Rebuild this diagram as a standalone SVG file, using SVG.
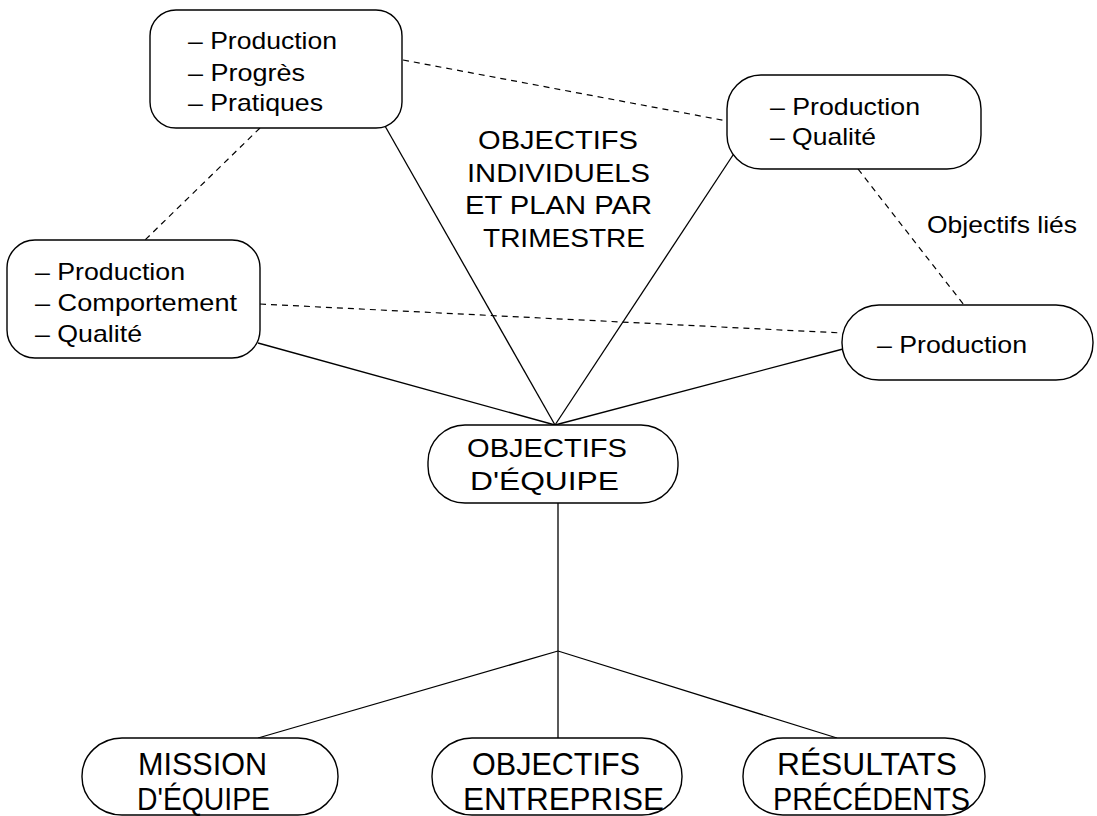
<svg xmlns="http://www.w3.org/2000/svg" width="1097" height="816" viewBox="0 0 1097 816">
<style>
.box{fill:#fff;stroke:#000;stroke-width:1.4}
.ln{stroke:#000;stroke-width:1.3;fill:none}
.dash{stroke:#000;stroke-width:1.2;fill:none;stroke-dasharray:6 5}
text{font-family:"Liberation Sans",Arial,sans-serif;fill:#000}
.s{font-size:24px}
.m{font-size:25px}
.b{font-size:32px}
</style>
<rect width="1097" height="816" fill="#fff"/>
<g id="connectors">
<line class="dash" x1="403" y1="60" x2="727" y2="121"/>
<line class="dash" x1="260" y1="128" x2="145" y2="240"/>
<line class="dash" x1="858" y1="169" x2="964" y2="305"/>
<line class="dash" x1="260" y1="304" x2="842" y2="333"/>
<line class="ln" x1="385" y1="126" x2="555" y2="425"/>
<line class="ln" x1="735" y1="152" x2="555" y2="425"/>
<line class="ln" x1="258" y1="343" x2="555" y2="425"/>
<line class="ln" x1="843" y1="349" x2="555" y2="425"/>
<line class="ln" x1="558" y1="503" x2="558" y2="651"/>
<line class="ln" x1="558" y1="651" x2="258" y2="738"/>
<line class="ln" x1="558" y1="651" x2="558" y2="738"/>
<line class="ln" x1="558" y1="651" x2="837" y2="738"/>
</g>
<g id="n-topleft">
<rect class="box" x="150" y="10" width="252" height="118" rx="26"/>
<text class="s" x="188" y="49" textLength="149" lengthAdjust="spacingAndGlyphs">– Production</text>
<text class="s" x="188" y="80.5" textLength="117" lengthAdjust="spacingAndGlyphs">– Progrès</text>
<text class="s" x="188" y="111" textLength="135" lengthAdjust="spacingAndGlyphs">– Pratiques</text>
</g>
<g id="n-topright">
<rect class="box" x="727" y="75" width="254" height="94" rx="34"/>
<text class="s" x="770" y="115" textLength="150" lengthAdjust="spacingAndGlyphs">– Production</text>
<text class="s" x="770" y="145" textLength="106" lengthAdjust="spacingAndGlyphs">– Qualité</text>
</g>
<g id="n-left">
<rect class="box" x="7" y="240" width="253" height="118" rx="28"/>
<text class="s" x="35" y="280" textLength="150" lengthAdjust="spacingAndGlyphs">– Production</text>
<text class="s" x="35" y="311" textLength="202" lengthAdjust="spacingAndGlyphs">– Comportement</text>
<text class="s" x="35" y="342" textLength="107" lengthAdjust="spacingAndGlyphs">– Qualité</text>
</g>
<g id="n-right">
<rect class="box" x="842" y="305" width="251" height="75" rx="37"/>
<text class="s" x="877" y="353" textLength="150" lengthAdjust="spacingAndGlyphs">– Production</text>
</g>
<g id="label-individuels">
<text class="m" x="478" y="149" textLength="160" lengthAdjust="spacingAndGlyphs">OBJECTIFS</text>
<text class="m" x="467" y="182" textLength="183" lengthAdjust="spacingAndGlyphs">INDIVIDUELS</text>
<text class="m" x="465" y="214" textLength="187" lengthAdjust="spacingAndGlyphs">ET PLAN PAR</text>
<text class="m" x="483" y="247" textLength="162" lengthAdjust="spacingAndGlyphs">TRIMESTRE</text>
</g>
<g id="label-lies">
<text class="s" x="927" y="233" textLength="150" lengthAdjust="spacingAndGlyphs">Objectifs liés</text>
</g>
<g id="n-equipe">
<rect class="box" x="428" y="425" width="250" height="78" rx="37"/>
<text class="m" x="467" y="457" textLength="160" lengthAdjust="spacingAndGlyphs">OBJECTIFS</text>
<text class="m" x="470" y="490" textLength="149" lengthAdjust="spacingAndGlyphs">D'ÉQUIPE</text>
</g>
<g id="n-mission">
<rect class="box" x="82" y="738" width="256" height="77" rx="40" ry="38"/>
<text class="b" x="138" y="775" textLength="129" lengthAdjust="spacingAndGlyphs">MISSION</text>
<text class="b" x="137" y="810" textLength="133" lengthAdjust="spacingAndGlyphs">D'ÉQUIPE</text>
</g>
<g id="n-entreprise">
<rect class="box" x="432" y="738" width="250" height="77" rx="40" ry="38"/>
<text class="b" x="472" y="775" textLength="168" lengthAdjust="spacingAndGlyphs">OBJECTIFS</text>
<text class="b" x="463" y="810" textLength="201" lengthAdjust="spacingAndGlyphs">ENTREPRISE</text>
</g>
<g id="n-resultats">
<rect class="box" x="743" y="738" width="242" height="77" rx="40" ry="38"/>
<text class="b" x="777" y="775" textLength="180" lengthAdjust="spacingAndGlyphs">RÉSULTATS</text>
<text class="b" x="773" y="810" textLength="197" lengthAdjust="spacingAndGlyphs">PRÉCÉDENTS</text>
</g>
</svg>
